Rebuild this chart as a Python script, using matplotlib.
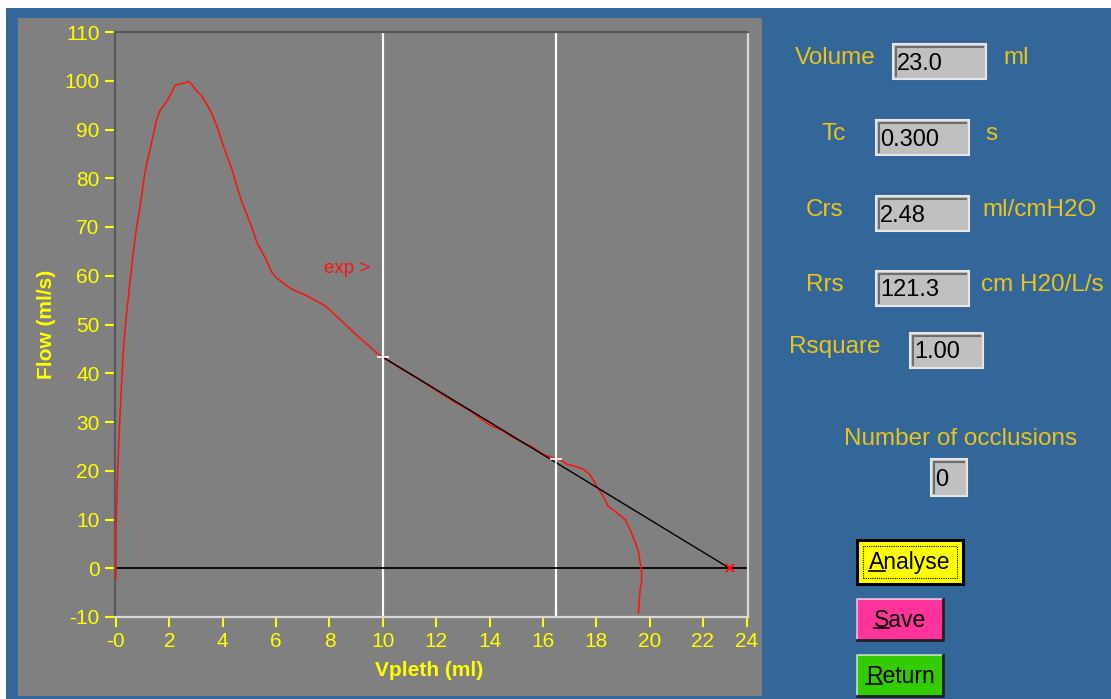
import matplotlib
matplotlib.use('Agg')
import matplotlib.pyplot as plt
from matplotlib.patches import Rectangle
from matplotlib.lines import Line2D

plt.rcParams['font.family'] = ['Liberation Sans', 'DejaVu Sans']
plt.rcParams['axes.unicode_minus'] = False

# expiratory flow-volume loop (ml, ml/s)
vol = [0.0, 0.0, 0.06, 0.14, 0.20, 0.26, 0.32, 0.38, 0.45, 0.51, 0.58, 0.64, 0.70,
       0.76, 0.89, 0.97, 1.07, 1.16, 1.26, 1.39, 1.51, 1.64, 1.83, 2.02, 2.20,
       2.39, 2.58, 2.70, 2.83, 3.02, 3.21, 3.40, 3.59, 3.77, 3.96, 4.15, 4.34,
       4.53, 4.72, 4.90, 5.09, 5.28, 5.59, 5.85, 6.03, 6.53, 6.91, 7.29, 7.85,
       8.42, 8.92, 9.42, 9.80, 10.0, 10.6, 11.3, 12.0, 12.6, 13.3, 14.0, 14.5,
       14.8, 15.2, 15.6, 16.0, 16.5, 16.64, 16.89, 17.20, 17.52, 17.77, 17.95,
       18.14, 18.33, 18.45, 18.77, 19.08, 19.27, 19.45, 19.58, 19.64, 19.70,
       19.70, 19.64, 19.61, 19.58]
flow = [-2.0, 8.0, 20.0, 30.5, 37.0, 43.5, 48.0, 51.5, 55.0, 58.3, 61.4, 64.7, 67.0,
        69.6, 74.0, 76.8, 80.9, 83.2, 85.6, 88.7, 91.8, 93.8, 95.2, 96.9, 99.0,
        99.4, 99.5, 99.9, 99.3, 97.9, 96.9, 95.2, 93.2, 90.8, 87.7, 84.6, 81.9,
        78.4, 75.0, 72.6, 69.9, 66.8, 63.7, 60.6, 59.5, 57.4, 56.5, 55.5, 53.8,
        50.9, 48.3, 45.9, 44.0, 43.3, 41.2, 39.0, 36.5, 34.4, 32.2, 29.4, 28.2,
        27.1, 25.9, 24.9, 23.4, 22.4, 22.3, 21.4, 20.9, 20.3, 19.2, 17.5,
        15.8, 14.1, 12.7, 11.4, 10.0, 7.9, 5.5, 3.5, 1.4, -0.3,
        -2.7, -4.7, -6.8, -9.2]

# cursors and the exponential fit between them
cursor_vol = [10.0, 16.5]
cursor_flow = [43.3, 22.4]
tc = 0.300
fit_vol = [10.0, 23.0]
fit_flow = [43.3, 0.0]

x_lim = (-0.04, 23.69)
x_tick_vals = [-0.02, 2, 4, 6, 8, 10, 12, 14, 16, 18, 20, 22, 23.65]
x_tick_labels = ['-0', '2', '4', '6', '8', '10', '12', '14', '16', '18', '20', '22', '24']
y_tick_vals = [-10, 0, 10, 20, 30, 40, 50, 60, 70, 80, 90, 100, 110]

# results panel
field_names = ['Volume', 'Tc', 'Crs', 'Rrs', 'Rsquare']
field_values = ['23.0', '0.300', '2.48', '121.3', '1.00']
field_units = ['ml', 's', 'ml/cmH2O', 'cm H20/L/s', '']
n_occlusions = '0'
buttons = ['Analyse', 'Save', 'Return']
button_colors = ['#ffff00', '#ff3399', '#33cc00']

W, H = 1111, 699
fig = plt.figure(figsize=(W / 100, H / 100), dpi=100, facecolor='white')


def box(x0, y0, x1, y1):
    # pixel box (origin top-left) -> figure fraction rect
    return (x0 / W, 1 - y1 / H), (x1 - x0) / W, (y1 - y0) / H


def ptxt(x, y, s, **kw):
    return fig.text(x / W, 1 - y / H, s, **kw)


def pline(xs, ys, **kw):
    fig.add_artist(Line2D([x / W for x in xs], [1 - y / H for y in ys],
                          transform=fig.transFigure, **kw))


# window background
xy, w, h = box(6, 8, W, H)
fig.add_artist(Rectangle(xy, w, h, transform=fig.transFigure,
                         facecolor='#336699', edgecolor='none', zorder=-3))
xy, w, h = box(18, 18, 762, 696)
fig.add_artist(Rectangle(xy, w, h, transform=fig.transFigure,
                         facecolor='#808080', edgecolor='none', zorder=-2))

ax = fig.add_axes([115 / W, 1 - 617 / H, (748 - 115) / W, (617 - 32) / H])
ax.set_facecolor('#808080')
ax.set_xlim(*x_lim)
ax.set_ylim(-10, 110)

ax.axvline(cursor_vol[0], color='white', lw=1.6, zorder=1)
ax.axvline(cursor_vol[1], color='white', lw=1.6, zorder=1)
ax.hlines(0, 0, x_lim[1], color='black', lw=1.3, zorder=2)
ax.plot(vol, flow, color='#ff1010', lw=1.1, zorder=3)
ax.plot(fit_vol, fit_flow, color='black', lw=1.0, zorder=4)
ax.plot(fit_vol[1], fit_flow[1], 'x', color='#ff1010', ms=6, mew=1.5, zorder=5)
ax.plot(cursor_vol, cursor_flow, '+', color='white', ms=8, mew=1.2, zorder=6)
ax.text(7.8, 61.4, 'exp >', color='#ff1010', fontsize=13.5, va='center', ha='left')

ax.set_xticks(x_tick_vals)
ax.set_xticklabels(x_tick_labels)
ax.set_yticks(y_tick_vals)
ax.tick_params(colors='#ffff00', labelsize=15, length=7, width=1.5, pad=4)
for t in ax.get_xticklabels() + ax.get_yticklabels():
    t.set_color('#ffff00')

ax.spines['left'].set_color('#5a5a5a')
ax.spines['top'].set_color('#5a5a5a')
ax.spines['bottom'].set_color('#d8d8d8')
ax.spines['right'].set_color('#d8d8d8')
for s in ax.spines.values():
    s.set_linewidth(1.6)

ptxt(429, 670, 'Vpleth (ml)', color='#ffff00', fontsize=15, fontweight='bold',
     ha='center', va='center')
ptxt(46, 324, 'Flow (ml/s)', color='#ffff00', fontsize=15, fontweight='bold',
     ha='center', va='center', rotation=90)

# numeric indicators
label_col = '#ebc31a'
name_x = [795, 822, 806, 806, 789]
row_y = [60, 136, 212, 287, 349]
box_x = [(893, 986), (876, 969), (876, 969), (876, 969), (910, 983)]
unit_x = [1003, 985, 982, 981, 0]


def indicator(x0, y0, x1, y1, value):
    xy, w, h = box(x0, y0, x1, y1)
    fig.add_artist(Rectangle(xy, w, h, transform=fig.transFigure,
                             facecolor='#c0c0c0', edgecolor='#e6e6e6', lw=1.5))
    pline([x0 + 3, x0 + 3, x1 - 3], [y1 - 3, y0 + 3, y0 + 3], color='#6e6e6e', lw=1.5)
    ptxt(x0 + 4, (y0 + y1) / 2 + 2, value, color='black', fontsize=17,
         ha='left', va='center')


for i, name in enumerate(field_names):
    yc = row_y[i]
    ptxt(name_x[i], yc - 2, name, color=label_col, fontsize=17.5, ha='left', va='center')
    indicator(box_x[i][0], yc - 16, box_x[i][1], yc + 19, field_values[i])
    if field_units[i]:
        ptxt(unit_x[i], yc - 2, field_units[i], color=label_col, fontsize=17.5,
             ha='left', va='center')

ptxt(961, 439, 'Number of occlusions', color=label_col, fontsize=17.5,
     ha='center', va='center')
indicator(931, 459, 967, 496, n_occlusions)

# buttons
btn_boxes = [(857, 540, 963, 584), (857, 599, 943, 640), (857, 655, 943, 696)]
fig.canvas.draw()
renderer = fig.canvas.get_renderer()
for name, col, (x0, y0, x1, y1) in zip(buttons, button_colors, btn_boxes):
    xy, w, h = box(x0, y0, x1, y1)
    if name == 'Analyse':
        fig.add_artist(Rectangle(xy, w, h, transform=fig.transFigure,
                                 facecolor=col, edgecolor='black', lw=2.2))
        xy2, w2, h2 = box(x0 + 6, y0 + 6, x1 - 6, y1 - 6)
        fig.add_artist(Rectangle(xy2, w2, h2, transform=fig.transFigure,
                                 facecolor='none', edgecolor='black', lw=0.8,
                                 linestyle=(0, (1, 1))))
    else:
        fig.add_artist(Rectangle(xy, w, h, transform=fig.transFigure,
                                 facecolor=col, edgecolor='none'))
        pline([x0, x0, x1], [y1, y0, y0], color='white', lw=1.2, alpha=0.7)
        pline([x0, x1, x1], [y1, y1, y0], color='#202020', lw=2.0)
    t = ptxt((x0 + x1) / 2, (y0 + y1) / 2 + 1, name, color='black', fontsize=16.5,
             ha='center', va='center')
    bb = t.get_window_extent(renderer)
    first = fig.text(0, 0, name[0], fontsize=16.5)
    fw = first.get_window_extent(renderer).width
    first.remove()
    uy = (bb.y0 + 4) / H
    fig.add_artist(Line2D([bb.x0 / W, (bb.x0 + fw) / W], [uy, uy],
                          transform=fig.transFigure, color='black', lw=1.2))

fig.savefig('out.png', dpi=100, facecolor=fig.get_facecolor())
